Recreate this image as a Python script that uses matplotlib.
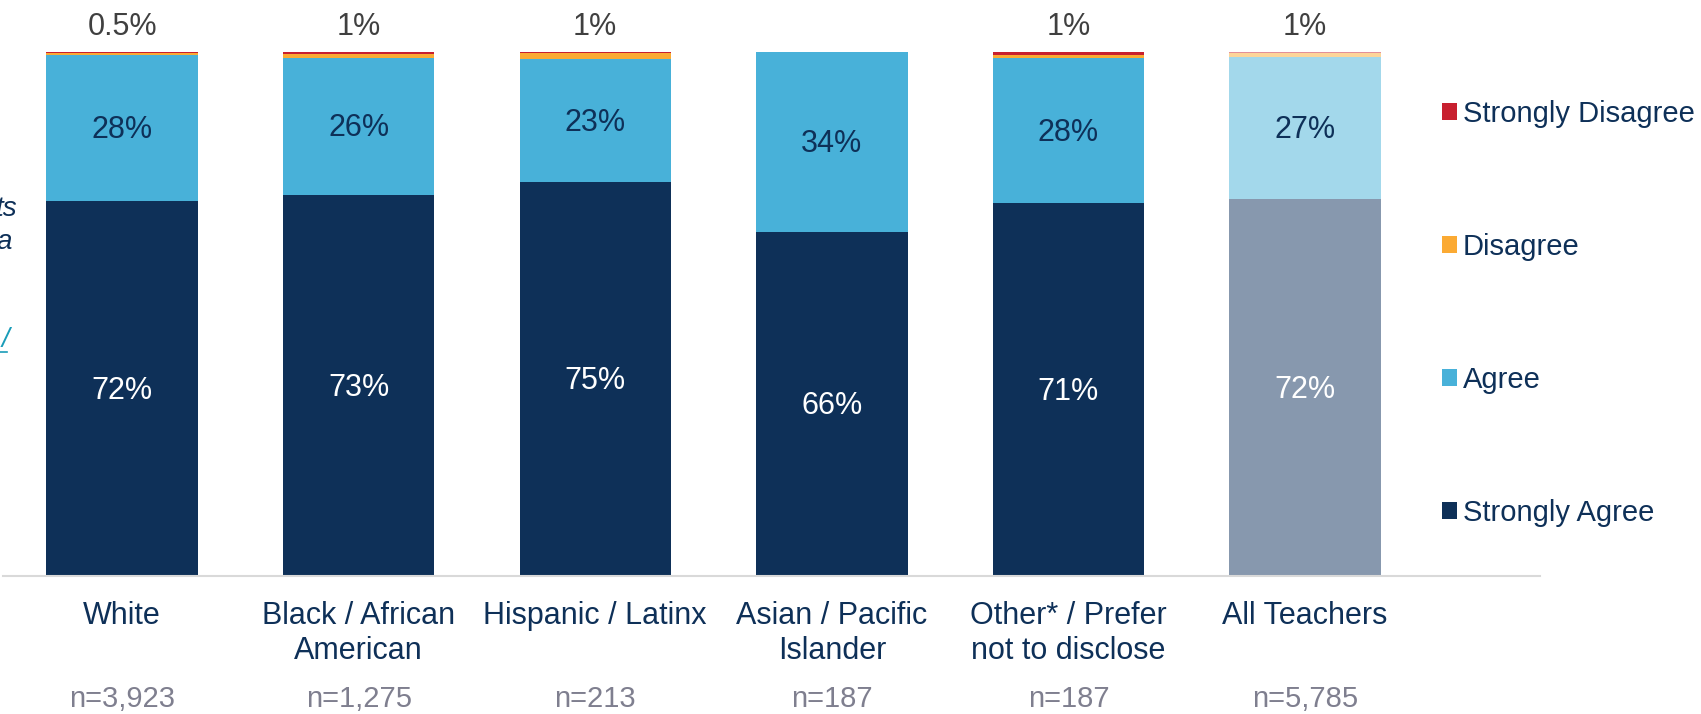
import matplotlib
matplotlib.use("Agg")
import matplotlib.pyplot as plt
from matplotlib.patches import Patch
import numpy as np

plt.rcParams["font.family"] = ["Liberation Sans", "DejaVu Sans"]

groups = ["White", "Black / African\nAmerican", "Hispanic / Latinx",
          "Asian / Pacific\nIslander", "Other* / Prefer\nnot to disclose", "All Teachers"]
n_labels = ["n=3,923", "n=1,275", "n=213", "n=187", "n=187", "n=5,785"]

strongly_agree = [71.7, 72.8, 75.3, 65.8, 71.2, 72.0]
agree = [27.8, 26.2, 23.4, 34.2, 27.8, 27.2]
disagree = [0.4, 0.6, 1.2, 0.0, 0.5, 0.6]
strongly_disagree = [0.1, 0.4, 0.1, 0.0, 0.5, 0.2]

sa_text = ["72%", "73%", "75%", "66%", "71%", "72%"]
a_text = ["28%", "26%", "23%", "34%", "28%", "27%"]
top_text = ["0.5%", "1%", "1%", "", "1%", "1%"]

NAVY = "#0E3058"
BLUE = "#48B1D9"
ORANGE = "#FBAA33"
RED = "#C8202F"
# lighter shades for the "All Teachers" bar
NAVY_L = "#8798AE"
BLUE_L = "#A3D8EB"
ORANGE_L = "#FDD599"
RED_L = "#E39097"

PX = 5.236  # pixels per percentage point on the y axis

fig = plt.figure(figsize=(17.01, 7.14), dpi=100)
ax = fig.add_axes([0.0018, 0.193, 0.9035, 0.807])

x = np.arange(len(groups))
w = 0.64
sa = np.array(strongly_agree)
a = np.array(agree)
d = np.array(disagree)
sd = np.array(strongly_disagree)

last = len(groups) - 1
c_sa = [NAVY] * last + [NAVY_L]
c_a = [BLUE] * last + [BLUE_L]
c_d = [ORANGE] * last + [ORANGE_L]
c_sd = [RED] * last + [RED_L]

ax.bar(x, sa, w, color=c_sa, zorder=2)
ax.bar(x, a, w, bottom=sa, color=c_a, zorder=2)
ax.bar(x, d, w, bottom=sa + a, color=c_d, zorder=2)
ax.bar(x, sd, w, bottom=sa + a + d, color=c_sd, zorder=2)

for i in x:
    ax.text(i, sa[i] / 2 - 0.4, sa_text[i], ha="center", va="center",
            fontsize=22, color="white")
    ax.text(i, sa[i] + a[i] / 2 - 0.4, a_text[i], ha="center", va="center",
            fontsize=22, color=NAVY)
    if top_text[i]:
        ax.text(i, 104.8, top_text[i], ha="center", va="center",
                fontsize=22, color="#404040")
    ax.text(i, -25 / PX, groups[i], ha="center", va="top", fontsize=22,
            color=NAVY, linespacing=1.2)
    ax.text(i, -(699 - 576) / PX, n_labels[i], ha="center", va="center",
            fontsize=21, color="#7F7F8F")

ax.set_xlim(-0.503, 5.993)
ax.set_ylim(0, 110)
for s in ["top", "right", "left"]:
    ax.spines[s].set_visible(False)
ax.spines["bottom"].set_color("#D9D9D9")
ax.spines["bottom"].set_linewidth(1.5)
ax.set_xticks([])
ax.set_yticks([])

handles = [Patch(facecolor=RED, label="Strongly Disagree"),
           Patch(facecolor=ORANGE, label="Disagree"),
           Patch(facecolor=BLUE, label="Agree"),
           Patch(facecolor=NAVY, label="Strongly Agree")]
leg = fig.legend(handles=handles, loc="upper left", bbox_to_anchor=(0.8475, 0.860),
                 frameon=False, fontsize=21, labelspacing=3.6, borderpad=0,
                 borderaxespad=0, handlelength=0.52, handleheight=0.52,
                 handletextpad=0.2)
for t in leg.get_texts():
    t.set_color(NAVY)

# cut-off fragments of a side note at the left edge
fig.text(0.0102, 1 - 209 / 714, "ts", ha="right", va="center", fontsize=20,
         style="italic", color=NAVY)
fig.text(0.0068, 1 - 242 / 714, "a", ha="right", va="center", fontsize=20,
         style="italic", color=NAVY)
fig.text(0.0055, 1 - 340 / 714, "/", ha="right", va="center", fontsize=20,
         style="italic", color="#1A9CB8")
fig.add_artist(plt.Line2D([0, 0.0042], [1 - 352 / 714] * 2, color="#1A9CB8", lw=1.2))

fig.savefig("out.png", dpi=100)
